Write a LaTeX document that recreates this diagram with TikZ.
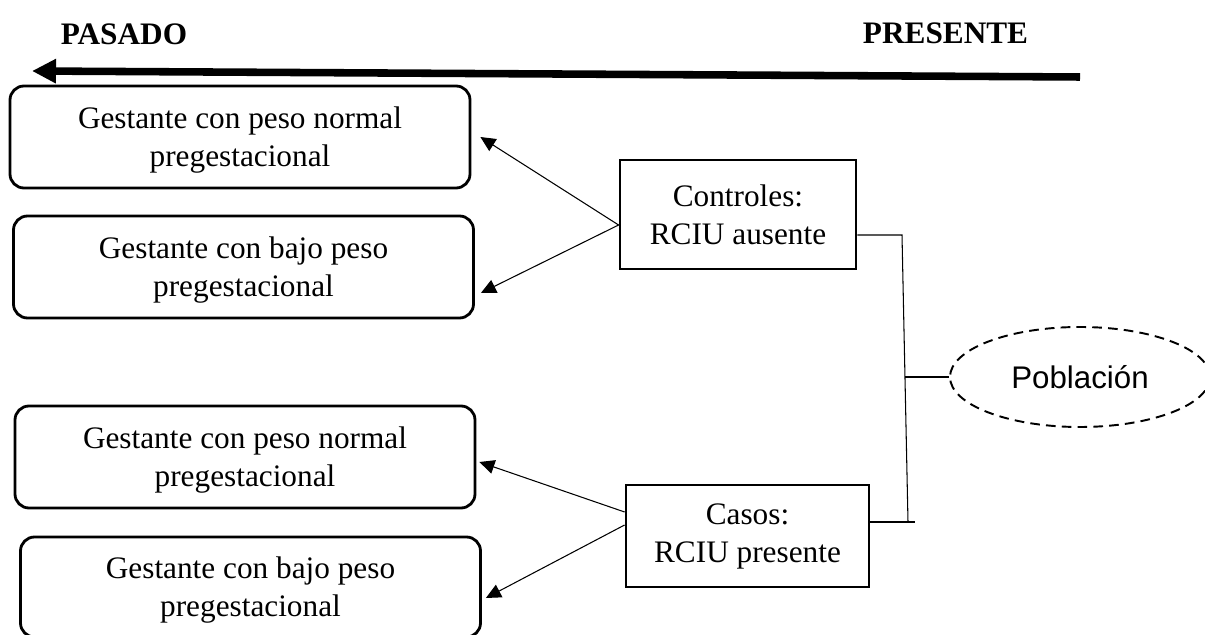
\documentclass[tikz,border=0pt]{standalone}
\usepackage{fontspec}
\setmainfont{Liberation Serif}
\newfontfamily\arialfont{Liberation Sans}
\usetikzlibrary{arrows.meta,shapes.geometric}

\begin{document}
\begin{tikzpicture}[
  every node/.style={font=\fontsize{17.8}{21.6}\selectfont},
  gestbox/.style={draw,line width=1.6pt,rounded corners=0.28cm,minimum width=9.2cm,minimum height=2.04cm,align=center,text depth=0pt},
  grupobox/.style={draw,line width=1.6pt,align=center},
  conn/.style={-{Triangle[length=0.3cm,width=0.28cm]},line width=0.6pt}
]
\useasboundingbox (0,0) rectangle (24.1,12.7);
% eje del tiempo
\node[font=\bfseries\fontsize{17.8}{21.6}\selectfont] (pasado) at (2.48,12.01) {PASADO};
\node[font=\bfseries\fontsize{17.8}{21.6}\selectfont] (presente) at (18.91,12.03) {PRESENTE};
\coordinate (ahora) at (21.6,11.16);
\coordinate (antes) at (0.64,11.28);
\draw[line width=4.3pt,-{Triangle[length=0.48cm,width=0.46cm]}] (ahora) -- (antes);
% exposiciones
\node[gestbox] (normalA) at (4.80,9.96) {Gestante con peso normal\\pregestacional};
\node[gestbox] (bajoA) at (4.87,7.36) {Gestante con bajo peso\\pregestacional};
\node[gestbox] (normalB) at (4.90,3.56) {Gestante con peso normal\\pregestacional};
\node[gestbox,minimum height=2.0cm] (bajoB) at (5.01,0.96) {Gestante con bajo peso\\pregestacional};
% grupos
\node[grupobox,minimum width=4.72cm,minimum height=2.18cm] (ctrl) at (14.76,8.41) {Controles:\\RCIU ausente};
\node[grupobox,minimum width=4.86cm,minimum height=2.04cm] (casos) at (14.95,1.98) {Casos:\\RCIU presente};
\node[ellipse,draw,dash pattern=on 5.5pt off 3.5pt,line width=1.1pt,minimum width=5.2cm,minimum height=2.0cm,font=\arialfont\fontsize{17.8}{21.6}\selectfont] (pob) at (21.6,5.16) {Población};
% flechas hacia el pasado
\draw[conn] ([yshift=-0.21cm]ctrl.west) -- ([xshift=0.18cm]normalA.east);
\draw[conn] ([yshift=-0.21cm]ctrl.west) -- ([xshift=0.12cm,yshift=-0.52cm]bajoA.east);
\draw[conn] ([yshift=0.48cm]casos.west) -- ([xshift=0.06cm,yshift=-0.1cm]normalB.east);
\draw[conn] ([yshift=0.22cm]casos.west) -- ([xshift=0.08cm,yshift=-0.22cm]bajoB.east);
% llave de la poblacion
\coordinate (btop) at (18.04,8.00);
\coordinate (bbot) at (18.16,2.26);
\coordinate (bmid) at (18.10,5.16);
\draw[line width=0.6pt] (ctrl.east |- btop) -- (btop) -- (bbot);
\draw[line width=0.6pt] (casos.east |- bbot) -- ([xshift=0.14cm]bbot);
\draw[line width=0.6pt] (bmid) -- (pob.west);
\end{tikzpicture}
\end{document}
